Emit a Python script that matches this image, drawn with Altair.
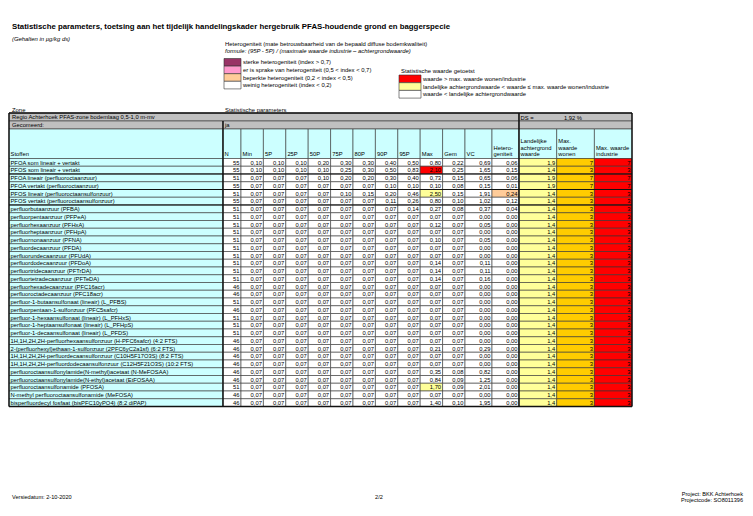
import altair as alt
import pandas as pd

# ------------------------------------------------------------------ data
stoffen = [
    "PFOA som lineair + vertakt",
    "PFOS som lineair + vertakt",
    "PFOA lineair (perfluoroctaanzuur)",
    "PFOA vertakt (perfluoroctaanzuur)",
    "PFOS lineair (perfluoroctaansulfonzuur)",
    "PFOS vertakt (perfluoroctaansulfonzuur)",
    "perfluorbutaanzuur (PFBA)",
    "perfluorpentaanzuur (PFPeA)",
    "perfluorhexaanzuur (PFHxA)",
    "perfluorheptaanzuur (PFHpA)",
    "perfluornonaanzuur (PFNA)",
    "perfluordecaanzuur (PFDA)",
    "perfluorundecaanzuur (PFUdA)",
    "perfluordodecaanzuur (PFDoA)",
    "perfluortridecaanzuur (PFTrDA)",
    "perfluortetradecaanzuur (PFTeDA)",
    "perfluorhexadecaanzuur (PFC16acr)",
    "perfluoroctadecaanzuur (PFC18acr)",
    "perfluor-1-butaansulfonaat (lineair) (L_PFBS)",
    "perfluorpentaan-1-sulfonzuur (PFC5safcr)",
    "perfluor-1-hexaansulfonaat (lineair) (L_PFHxS)",
    "perfluor-1-heptaansulfonaat (lineair) (L_PFHpS)",
    "perfluor-1-decaansulfonaat (lineair) (L_PFDS)",
    "1H,1H,2H,2H-perfluorhexaansulfonzuur (H-PFC6safcr) (4:2 FTS)",
    "2-(perfluorhexyl)ethaan-1-sulfonzuur (2PFC6yC2a1sf) (6:2 FTS)",
    "1H,1H,2H,2H-perfluordecaansulfonzuur (C10H5F17O3S) (8:2 FTS)",
    "1H,1H,2H,2H-perfluordodecaansulfonzuur (C12H5F21O3S) (10:2 FTS)",
    "perfluoroctaansulfonylamide(N-methyl)acetaat (N-MeFOSAA)",
    "perfluoroctaansulfonylamide(N-ethyl)acetaat (EtFOSAA)",
    "perfluoroctaansulfonamide (PFOSA)",
    "N-methyl perfluoroctaansulfonamide (MeFOSA)",
    "bisperfluordecyl fosfaat (bisPFC10yPO4) (8:2 diPAP)",
]
n_obs = [55, 55, 51, 55, 51, 55, 51, 51, 51, 51, 51, 51, 51, 51, 51, 51,
         46, 46, 51, 46, 51, 51, 51, 46, 46, 46, 46, 46, 46, 51, 46, 46]
v_min = [0.10, 0.10, 0.07, 0.07, 0.07, 0.07, 0.07, 0.07, 0.07, 0.07, 0.07, 0.07, 0.07, 0.07, 0.07, 0.07,
         0.07, 0.07, 0.07, 0.07, 0.07, 0.07, 0.07, 0.07, 0.07, 0.07, 0.07, 0.07, 0.07, 0.07, 0.07, 0.07]
v_p5 = [0.10, 0.10, 0.07, 0.07, 0.07, 0.07, 0.07, 0.07, 0.07, 0.07, 0.07, 0.07, 0.07, 0.07, 0.07, 0.07,
        0.07, 0.07, 0.07, 0.07, 0.07, 0.07, 0.07, 0.07, 0.07, 0.07, 0.07, 0.07, 0.07, 0.07, 0.07, 0.07]
v_p25 = [0.10, 0.10, 0.07, 0.07, 0.07, 0.07, 0.07, 0.07, 0.07, 0.07, 0.07, 0.07, 0.07, 0.07, 0.07, 0.07,
         0.07, 0.07, 0.07, 0.07, 0.07, 0.07, 0.07, 0.07, 0.07, 0.07, 0.07, 0.07, 0.07, 0.07, 0.07, 0.07]
v_p50 = [0.20, 0.10, 0.10, 0.07, 0.07, 0.07, 0.07, 0.07, 0.07, 0.07, 0.07, 0.07, 0.07, 0.07, 0.07, 0.07,
         0.07, 0.07, 0.07, 0.07, 0.07, 0.07, 0.07, 0.07, 0.07, 0.07, 0.07, 0.07, 0.07, 0.07, 0.07, 0.07]
v_p75 = [0.30, 0.25, 0.20, 0.07, 0.10, 0.07, 0.07, 0.07, 0.07, 0.07, 0.07, 0.07, 0.07, 0.07, 0.07, 0.07,
         0.07, 0.07, 0.07, 0.07, 0.07, 0.07, 0.07, 0.07, 0.07, 0.07, 0.07, 0.07, 0.07, 0.07, 0.07, 0.07]
v_p80 = [0.30, 0.30, 0.20, 0.07, 0.15, 0.07, 0.07, 0.07, 0.07, 0.07, 0.07, 0.07, 0.07, 0.07, 0.07, 0.07,
         0.07, 0.07, 0.07, 0.07, 0.07, 0.07, 0.07, 0.07, 0.07, 0.07, 0.07, 0.07, 0.07, 0.07, 0.07, 0.07]
v_p90 = [0.40, 0.50, 0.30, 0.10, 0.20, 0.11, 0.07, 0.07, 0.07, 0.07, 0.07, 0.07, 0.07, 0.07, 0.07, 0.07,
         0.07, 0.07, 0.07, 0.07, 0.07, 0.07, 0.07, 0.07, 0.07, 0.07, 0.07, 0.07, 0.07, 0.07, 0.07, 0.07]
v_p95 = [0.50, 0.83, 0.40, 0.10, 0.46, 0.26, 0.14, 0.07, 0.07, 0.07, 0.07, 0.07, 0.07, 0.07, 0.07, 0.07,
         0.07, 0.07, 0.07, 0.07, 0.07, 0.07, 0.07, 0.07, 0.07, 0.07, 0.07, 0.07, 0.07, 0.07, 0.07, 0.07]
v_max = [0.80, 2.10, 0.73, 0.10, 2.50, 0.80, 0.27, 0.07, 0.12, 0.07, 0.10, 0.07, 0.07, 0.14, 0.14, 0.14,
         0.07, 0.07, 0.07, 0.07, 0.07, 0.07, 0.07, 0.07, 0.21, 0.07, 0.07, 0.35, 0.84, 1.70, 0.07, 1.40]
v_gem = [0.22, 0.25, 0.15, 0.08, 0.15, 0.10, 0.08, 0.07, 0.07, 0.07, 0.07, 0.07, 0.07, 0.07, 0.07, 0.07,
         0.07, 0.07, 0.07, 0.07, 0.07, 0.07, 0.07, 0.07, 0.07, 0.07, 0.07, 0.08, 0.09, 0.09, 0.07, 0.10]
v_vc = [0.69, 1.65, 0.65, 0.15, 1.91, 1.02, 0.37, 0.00, 0.05, 0.00, 0.05, 0.00, 0.00, 0.11, 0.11, 0.16,
        0.00, 0.00, 0.00, 0.00, 0.00, 0.00, 0.00, 0.00, 0.29, 0.00, 0.00, 0.82, 1.25, 2.01, 0.00, 1.95]
v_het = [0.06, 0.15, 0.06, 0.01, 0.24, 0.12, 0.04, 0.00, 0.00, 0.00, 0.00, 0.00, 0.00, 0.00, 0.00, 0.00,
         0.00, 0.00, 0.00, 0.00, 0.00, 0.00, 0.00, 0.00, 0.00, 0.00, 0.00, 0.00, 0.00, 0.00, 0.00, 0.00]
landelijk = [1.9, 1.4, 1.9, 1.9, 1.4, 1.4, 1.4, 1.4, 1.4, 1.4, 1.4, 1.4, 1.4, 1.4, 1.4, 1.4,
             1.4, 1.4, 1.4, 1.4, 1.4, 1.4, 1.4, 1.4, 1.4, 1.4, 1.4, 1.4, 1.4, 1.4, 1.4, 1.4]
max_wonen = [7, 3, 7, 7, 3, 3, 3, 3, 3, 3, 3, 3, 3, 3, 3, 3,
             3, 3, 3, 3, 3, 3, 3, 3, 3, 3, 3, 3, 3, 3, 3, 3]
max_industrie = [7, 3, 7, 7, 3, 3, 3, 3, 3, 3, 3, 3, 3, 3, 3, 3,
                 3, 3, 3, 3, 3, 3, 3, 3, 3, 3, 3, 3, 3, 3, 3, 3]
# toetsing of the maximum value: "boven" / "tussen" / "onder"
max_toets = ["onder", "boven", "onder", "onder", "tussen", "onder", "onder", "onder",
             "onder", "onder", "onder", "onder", "onder", "onder", "onder", "onder",
             "onder", "onder", "onder", "onder", "onder", "onder", "onder", "onder",
             "onder", "onder", "onder", "onder", "onder", "tussen", "onder", "onder"]
droge_stof = 1.92

col_headers = [["Stoffen"], ["N"], ["Min"], ["5P"], ["25P"], ["50P"], ["75P"], ["80P"],
               ["90P"], ["95P"], ["Max"], ["Gem"], ["VC"], ["Hetero-", "geniteit"],
               ["Landelijke", "achtergrond", "waarde"], ["Max.", "waarde", "wonen"],
               ["Max. waarde", "industrie"]]

# ------------------------------------------------------------------ layout
W, H = 737, 497
SX, SY = -1, -8          # page position -> chart position
CYAN, GRAY, WHITE = "#CCFFFF", "#C0C0C0", "#FFFFFF"
YEL, ORA, RED = "#FFFF99", "#FFCC00", "#FF0000"
PEACH, PINK, PURPLE = "#FFCC99", "#FF99CC", "#993366"
FS = 5.8                 # table font size
FL = 5.9                 # legend / label font size
col_w = [214, 18] + [22.4] * 10 + [27, 27, 37.7, 37.7, 37.6]
edges = [2.0]
for w in col_w:
    edges.append(edges[-1] + w)
Y_REGIO, Y_GEC, Y_HEAD, Y_DATA = 113.0, 121.0, 129.0, 158.5
RH = 7.75
Y_END = Y_DATA + RH * len(stoffen)

rects, rules, t_left, t_right, t_center, t_bold, t_ital = [], [], [], [], [], [], []


def rect(x, x2, y, y2, fill, stroke="#333333"):
    rects.append(dict(x=x + SX, x2=x2 + SX, y=y + SY, y2=y2 + SY, fill=fill, stroke=stroke))


def rule(x, x2, y, y2, w=1.4):
    rules.append(dict(x=x + SX, x2=x2 + SX, y=y + SY, y2=y2 + SY, w=w))


def txt(lst, x, y, s, size=FS, color="#000000"):
    lst.append(dict(x=x + SX, y=y + SY, text=s, size=size, color=color))


def fmt(v, d=2):
    return f"{v:.{d}f}".replace(".", ",")


# title block
txt(t_bold, 5, 27, "Statistische parameters, toetsing aan het tijdelijk handelingskader "
                   "hergebruik PFAS-houdende grond en baggerspecie", size=7.8)
txt(t_ital, 5, 39, "(Gehalten in µg/kg ds)", size=FL)

# legend heterogeniteit
txt(t_left, 218, 44.3, "Heterogeniteit (mate betrouwbaarheid van de bepaald diffuse bodemkwaliteit)", size=FL)
txt(t_ital, 218, 50.8, "formule: (95P - 5P) / (maximale waarde industrie – achtergrondwaarde)", size=FL)
het_leg = [(PURPLE, "sterke heterogeniteit (index > 0,7)"),
           (PINK, "er is sprake van heterogeniteit (0,5 < index < 0,7)"),
           (PEACH, "beperkte heterogeniteit (0,2 < index < 0,5)"),
           (WHITE, "weinig heterogeniteit (index < 0,2)")]
for i, (c, lab) in enumerate(het_leg):
    y0 = 58.5 + i * 7.6
    rect(217, 234, y0, y0 + 7.6, c)
    txt(t_left, 236, y0 + 3.8, lab, size=FL)

# legend toetsing
txt(t_left, 394, 71, "Statistische waarde getoetst", size=FL)
toets_leg = [(RED, "waarde > max. waarde wonen/industrie"),
             (YEL, "landelijke achtergrondwaarde < waarde ≤ max. waarde wonen/industrie"),
             (WHITE, "waarde < landelijke achtergrondwaarde")]
for i, (c, lab) in enumerate(toets_leg):
    y0 = 75 + i * 7.7
    rect(392, 414, y0, y0 + 7.7, c)
    txt(t_left, 416, y0 + 3.85, lab, size=FL)

txt(t_left, 5, 110, "Zone", size=FL)
txt(t_left, 218, 110, "Statistische parameters", size=FL)

# table top rows
rect(edges[0], edges[14], Y_REGIO, Y_GEC, GRAY)
rect(edges[14], edges[17], Y_REGIO, Y_GEC, GRAY)
rect(edges[0], edges[1], Y_GEC, Y_HEAD, GRAY)
rect(edges[1], edges[14], Y_GEC, Y_HEAD, GRAY)
rect(edges[14], edges[17], Y_GEC, Y_HEAD, GRAY)
txt(t_left, 5, (Y_REGIO + Y_GEC) / 2, "Regio Achterhoek PFAS-zone bodemlaag 0,5-1,0 m-mv")
txt(t_left, 5, (Y_GEC + Y_HEAD) / 2, "Gecomeerd:")
txt(t_left, edges[1] + 2, (Y_GEC + Y_HEAD) / 2, "ja")
txt(t_left, edges[14] + 1.5, (Y_REGIO + Y_GEC) / 2 + 1, "DS =")
txt(t_right, 575, (Y_REGIO + Y_GEC) / 2 + 1, fmt(droge_stof) + " %")

# header
for j, lines in enumerate(col_headers):
    rect(edges[j], edges[j + 1], Y_HEAD, Y_DATA, CYAN)
    for k, line in enumerate(lines):
        yy = Y_DATA - 4.2 - (len(lines) - 1 - k) * 6.6
        txt(t_left, edges[j] + 1.6, yy, line)

# data rows
stat_cols = [v_min, v_p5, v_p25, v_p50, v_p75, v_p80, v_p90, v_p95, v_max, v_gem, v_vc]
for i, name in enumerate(stoffen):
    y0, y1 = Y_DATA + i * RH, Y_DATA + (i + 1) * RH
    ym = (y0 + y1) / 2 + 0.2
    rect(edges[0], edges[1], y0, y1, CYAN)
    txt(t_left, 3.5, ym, name)
    rect(edges[1], edges[2], y0, y1, WHITE)
    txt(t_right, edges[2] - 1.5, ym, str(n_obs[i]))
    for j, col in enumerate(stat_cols):
        fill = WHITE
        if col is v_max:
            fill = {"boven": RED, "tussen": YEL, "onder": WHITE}[max_toets[i]]
        rect(edges[2 + j], edges[3 + j], y0, y1, fill)
        txt(t_right, edges[3 + j] - 1.5, ym, fmt(col[i]))
    h = v_het[i]
    hfill = PURPLE if h > 0.7 else PINK if h > 0.5 else PEACH if h > 0.2 else WHITE
    rect(edges[13], edges[14], y0, y1, hfill)
    txt(t_right, edges[14] - 1.5, ym, fmt(h))
    rect(edges[14], edges[15], y0, y1, YEL)
    txt(t_right, edges[15] - 1.5, ym, fmt(landelijk[i], 1))
    rect(edges[15], edges[16], y0, y1, ORA)
    txt(t_right, edges[16] - 1.5, ym, str(max_wonen[i]))
    rect(edges[16], edges[17], y0, y1, RED)
    txt(t_right, edges[17] - 1.5, ym, str(max_industrie[i]))

# heavier lines
rule(edges[0], edges[17], Y_REGIO, Y_REGIO)
rule(edges[0], edges[17], Y_END, Y_END)
rule(edges[0], edges[0], Y_REGIO, Y_END)
rule(edges[17], edges[17], Y_REGIO, Y_END)
rule(edges[1], edges[1], Y_GEC, Y_END)
rule(edges[14], edges[14], Y_REGIO, Y_END)
for r in (2, 4, 6):
    rule(edges[0], edges[17], Y_DATA + r * RH, Y_DATA + r * RH, 1.1)

# footer
txt(t_left, 5, 497, "Versiedatum: 2-10-2020", size=5.6)
txt(t_center, 372, 497, "2/2", size=5.6)
txt(t_right, 736, 493.5, "Project: BKK Achterhoek", size=5.6)
txt(t_right, 736, 499.5, "Projectcode: SO8011396", size=5.6)

# ------------------------------------------------------------------ chart
xs = alt.Scale(domain=[0, W], nice=False, zero=False)
ys = alt.Scale(domain=[0, H], nice=False, zero=False, reverse=True)
FONT = "Liberation Sans"

rect_layer = alt.Chart(pd.DataFrame(rects)).mark_rect(strokeWidth=0.6).encode(
    x=alt.X("x:Q", scale=xs, axis=None), x2="x2:Q",
    y=alt.Y("y:Q", scale=ys, axis=None), y2="y2:Q",
    fill=alt.Color("fill:N", scale=None),
    stroke=alt.Color("stroke:N", scale=None),
)
rule_layer = alt.Chart(pd.DataFrame(rules)).mark_rule(color="#111111").encode(
    x=alt.X("x:Q", scale=xs, axis=None), x2="x2:Q",
    y=alt.Y("y:Q", scale=ys, axis=None), y2="y2:Q",
    strokeWidth=alt.StrokeWidth("w:Q", scale=None),
)


def text_layer(rows, **mk):
    return alt.Chart(pd.DataFrame(rows)).mark_text(font=FONT, baseline="middle", **mk).encode(
        x=alt.X("x:Q", scale=xs, axis=None),
        y=alt.Y("y:Q", scale=ys, axis=None),
        text="text:N",
        size=alt.Size("size:Q", scale=None),
        color=alt.Color("color:N", scale=None),
    )


chart = alt.layer(
    rect_layer,
    rule_layer,
    text_layer(t_left, align="left"),
    text_layer(t_right, align="right"),
    text_layer(t_center, align="center"),
    text_layer(t_bold, align="left", fontWeight="bold"),
    text_layer(t_ital, align="left", fontStyle="italic"),
).properties(width=W, height=H, padding=0, autosize="none").configure_view(stroke=None)

chart.save("out.html", embed_options={"renderer": "svg", "actions": False})
